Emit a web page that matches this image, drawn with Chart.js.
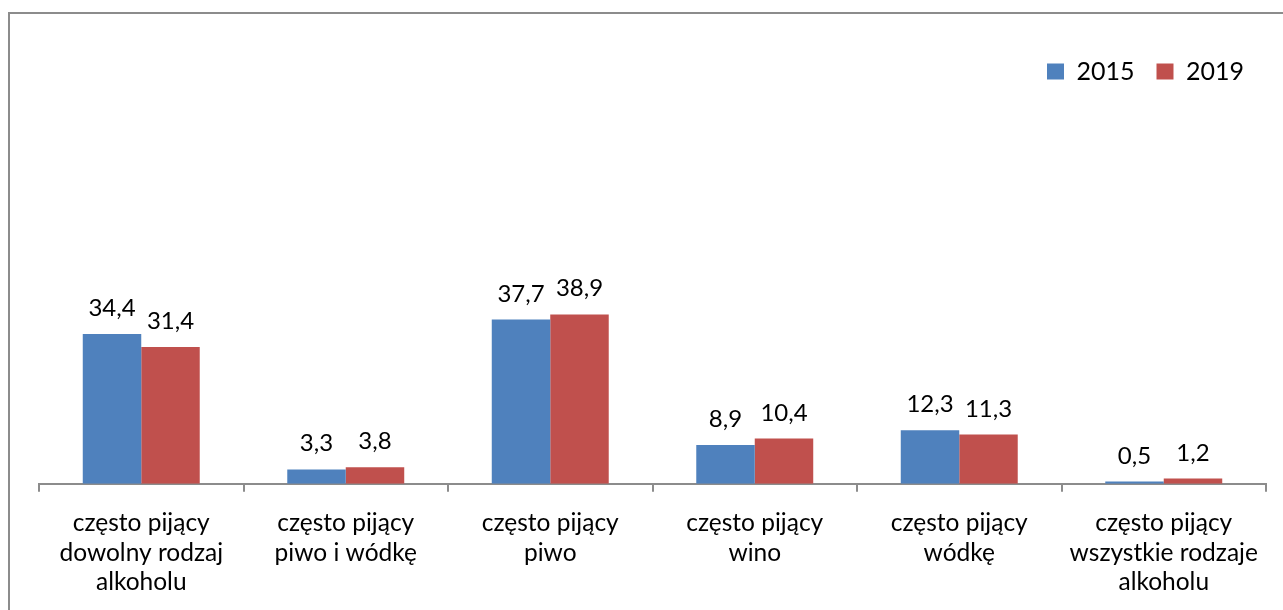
<!DOCTYPE html>
<html>
<head>
<meta charset="utf-8">
<script src="https://cdn.jsdelivr.net/npm/chart.js@4.4.1/dist/chart.umd.min.js"></script>
<style>
  html, body { margin: 0; padding: 0; background: #fff; overflow: hidden; }
  #frame {
    position: absolute; left: 8px; top: 12px; width: 1400px; height: 700px;
    border: 2px solid #8c8c8c; box-sizing: border-box;
  }
  #wrap { position: absolute; left: 0; top: 0; width: 1283px; height: 617px; }
</style>
</head>
<body>
<div id="frame"></div>
<div id="wrap"><canvas id="chart"></canvas></div>
<script>
const categories = [
  ['często pijący', 'dowolny rodzaj', 'alkoholu'],
  ['często pijący', 'piwo i wódkę'],
  ['często pijący', 'piwo'],
  ['często pijący', 'wino'],
  ['często pijący', 'wódkę'],
  ['często pijący', 'wszystkie rodzaje', 'alkoholu']
];
const seriesNames = ['2015', '2019'];
const values2015 = [34.4, 3.3, 37.7, 8.9, 12.3, 0.5];
const values2019 = [31.4, 3.8, 38.9, 10.4, 11.3, 1.2];

const FONT = 'Lato, "Noto Sans", sans-serif';

// value labels above bars, with decimal comma
const barLabels = {
  id: 'barLabels',
  afterDatasetsDraw(chart) {
    const ctx = chart.ctx;
    ctx.save();
    ctx.font = '24px ' + FONT;
    ctx.fillStyle = '#000';
    ctx.textAlign = 'center';
    ctx.textBaseline = 'alphabetic';
    chart.data.datasets.forEach((ds, i) => {
      chart.getDatasetMeta(i).data.forEach((bar, j) => {
        const txt = ds.data[j].toFixed(1).replace('.', ',');
        ctx.fillText(txt, bar.x, bar.y - 18);
      });
    });
    ctx.restore();
  }
};

new Chart(document.getElementById('chart'), {
  type: 'bar',
  data: {
    labels: categories,
    datasets: [
      { label: seriesNames[0], data: values2015, backgroundColor: '#4f81bd' },
      { label: seriesNames[1], data: values2019, backgroundColor: '#c0504d' }
    ]
  },
  options: {
    responsive: true,
    maintainAspectRatio: false,
    animation: false,
    layout: { padding: { left: 39, right: 17, top: 37, bottom: 3 } },
    datasets: { bar: { categoryPercentage: 0.572, barPercentage: 1 } },
    plugins: {
      tooltip: { enabled: false },
      legend: {
        position: 'top',
        align: 'end',
        labels: {
          font: { family: FONT, size: 25 },
          color: '#000',
          boxWidth: 17,
          boxHeight: 16,
          padding: 22
        }
      }
    },
    scales: {
      x: {
        grid: { offset: true, drawOnChartArea: false, drawTicks: true, tickLength: 8, color: '#8c8c8c', lineWidth: 2 },
        border: { display: true, color: '#8c8c8c', width: 2 },
        ticks: { font: { family: FONT, size: 24.5, lineHeight: 1.2 }, color: '#000', maxRotation: 0, autoSkip: false, padding: 17 }
      },
      y: {
        display: false,
        min: 0,
        max: 89.5
      }
    }
  },
  plugins: [barLabels]
});
</script>
</body>
</html>
